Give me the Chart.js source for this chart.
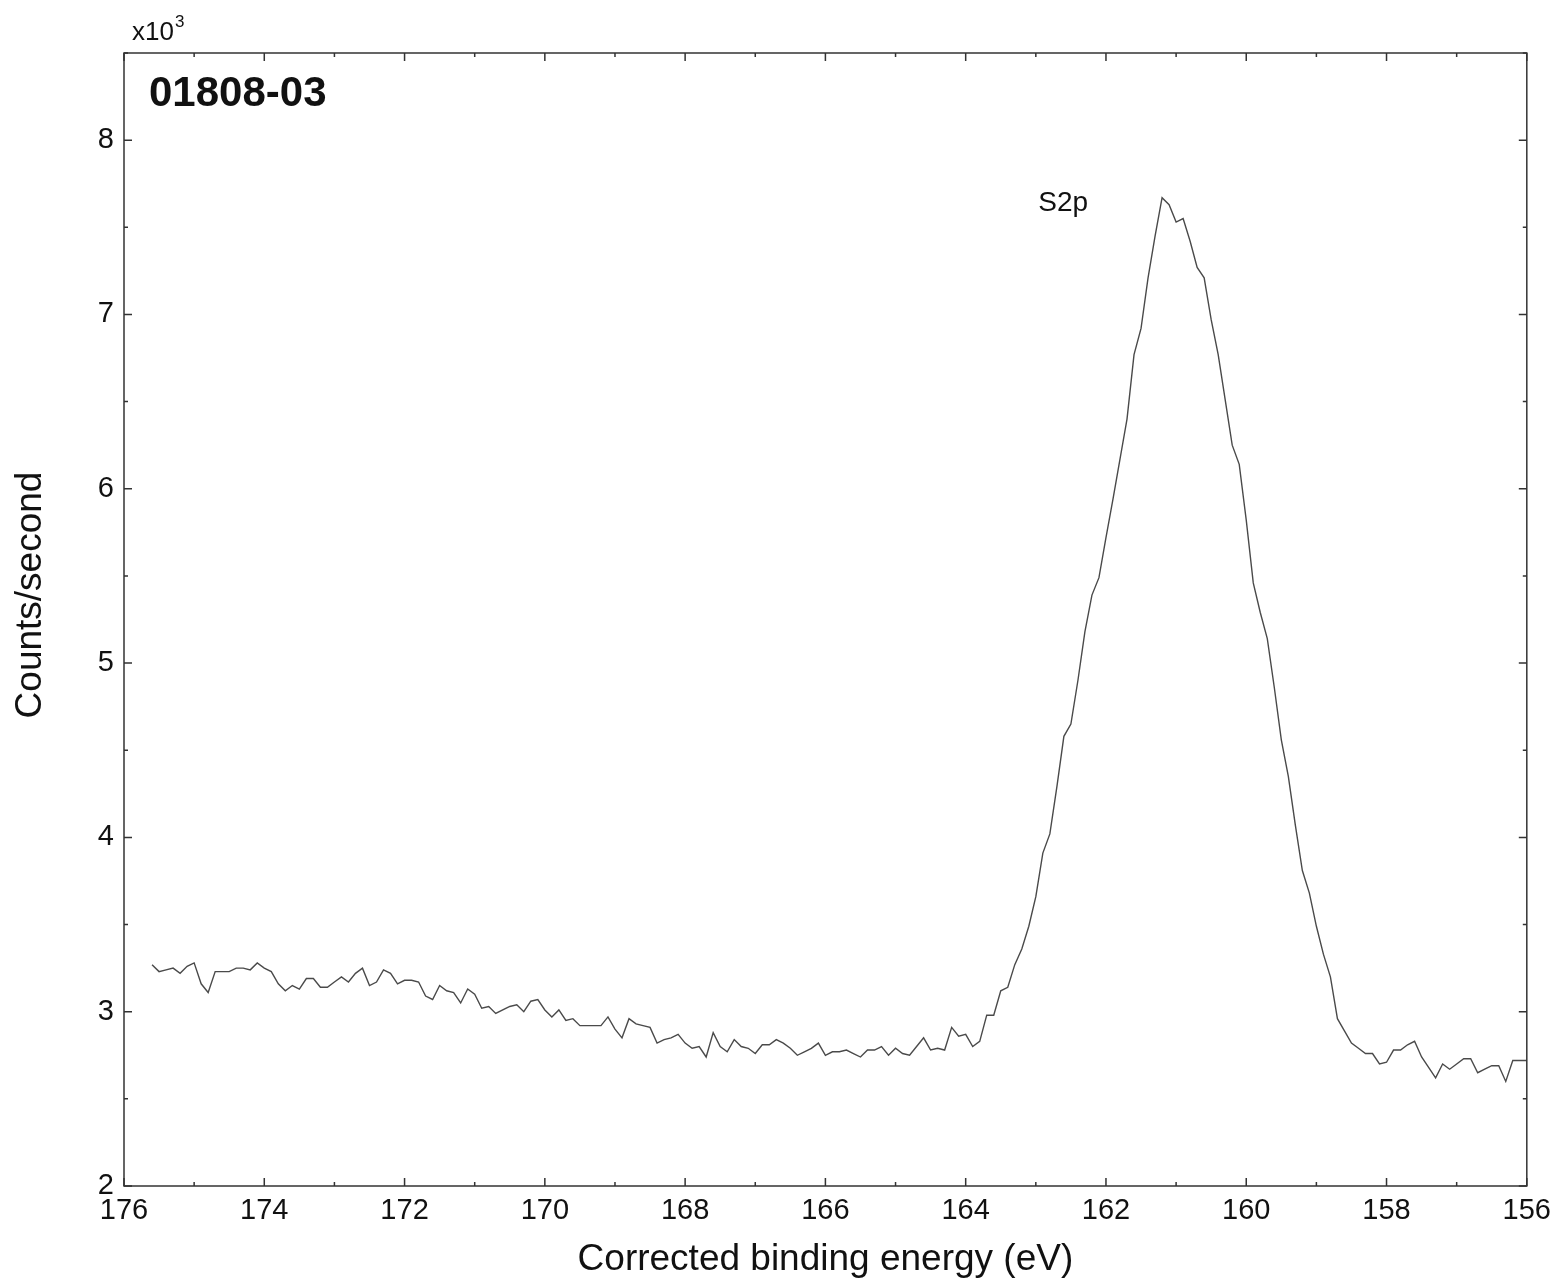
<!DOCTYPE html>
<html>
<head>
<meta charset="utf-8">
<title>01808-03 S2p</title>
<script src="https://cdn.jsdelivr.net/npm/chart.js@4/dist/chart.umd.min.js"></script>
<style>
  html, body { margin: 0; padding: 0; background: #fff; }
  #wrap { width: 1559px; height: 1285px; position: relative; }
</style>
</head>
<body>
<div id="wrap"><canvas id="chart"></canvas></div>
<script>
// binding energy (eV), 0.1 eV steps as recorded
const energies = [
  175.6, 175.5, 175.4, 175.3, 175.2, 175.1, 175.0, 174.9, 174.8, 174.7,
  174.6, 174.5, 174.4, 174.3, 174.2, 174.1, 174.0, 173.9, 173.8, 173.7,
  173.6, 173.5, 173.4, 173.3, 173.2, 173.1, 173.0, 172.9, 172.8, 172.7,
  172.6, 172.5, 172.4, 172.3, 172.2, 172.1, 172.0, 171.9, 171.8, 171.7,
  171.6, 171.5, 171.4, 171.3, 171.2, 171.1, 171.0, 170.9, 170.8, 170.7,
  170.6, 170.5, 170.4, 170.3, 170.2, 170.1, 170.0, 169.9, 169.8, 169.7,
  169.6, 169.5, 169.4, 169.3, 169.2, 169.1, 169.0, 168.9, 168.8, 168.7,
  168.6, 168.5, 168.4, 168.3, 168.2, 168.1, 168.0, 167.9, 167.8, 167.7,
  167.6, 167.5, 167.4, 167.3, 167.2, 167.1, 167.0, 166.9, 166.8, 166.7,
  166.6, 166.5, 166.4, 166.3, 166.2, 166.1, 166.0, 165.9, 165.8, 165.7,
  165.6, 165.5, 165.4, 165.3, 165.2, 165.1, 165.0, 164.9, 164.8, 164.7,
  164.6, 164.5, 164.4, 164.3, 164.2, 164.1, 164.0, 163.9, 163.8, 163.7,
  163.6, 163.5, 163.4, 163.3, 163.2, 163.1, 163.0, 162.9, 162.8, 162.7,
  162.6, 162.5, 162.4, 162.3, 162.2, 162.1, 162.0, 161.9, 161.8, 161.7,
  161.6, 161.5, 161.4, 161.3, 161.2, 161.1, 161.0, 160.9, 160.8, 160.7,
  160.6, 160.5, 160.4, 160.3, 160.2, 160.1, 160.0, 159.9, 159.8, 159.7,
  159.6, 159.5, 159.4, 159.3, 159.2, 159.1, 159.0, 158.9, 158.8, 158.7,
  158.6, 158.5, 158.4, 158.3, 158.2, 158.1, 158.0, 157.9, 157.8, 157.7,
  157.6, 157.5, 157.4, 157.3, 157.2, 157.1, 157.0, 156.9, 156.8, 156.7,
  156.6, 156.5, 156.4, 156.3, 156.2, 156.1, 156.0
];

// counts/second, x10^3
const counts = [
  3.27, 3.23, 3.24, 3.25, 3.22, 3.26, 3.28, 3.16, 3.11, 3.23,
  3.23, 3.23, 3.25, 3.25, 3.24, 3.28, 3.25, 3.23, 3.16, 3.12,
  3.15, 3.13, 3.19, 3.19, 3.14, 3.14, 3.17, 3.20, 3.17, 3.22,
  3.25, 3.15, 3.17, 3.24, 3.22, 3.16, 3.18, 3.18, 3.17, 3.09,
  3.07, 3.15, 3.12, 3.11, 3.05, 3.13, 3.10, 3.02, 3.03, 2.99,
  3.01, 3.03, 3.04, 3.00, 3.06, 3.07, 3.01, 2.97, 3.01, 2.95,
  2.96, 2.92, 2.92, 2.92, 2.92, 2.97, 2.90, 2.85, 2.96, 2.93,
  2.92, 2.91, 2.82, 2.84, 2.85, 2.87, 2.82, 2.79, 2.80, 2.74,
  2.88, 2.80, 2.77, 2.84, 2.80, 2.79, 2.76, 2.81, 2.81, 2.84,
  2.82, 2.79, 2.75, 2.77, 2.79, 2.82, 2.75, 2.77, 2.77, 2.78,
  2.76, 2.74, 2.78, 2.78, 2.80, 2.75, 2.79, 2.76, 2.75, 2.80,
  2.85, 2.78, 2.79, 2.78, 2.91, 2.86, 2.87, 2.80, 2.83, 2.98,
  2.98, 3.12, 3.14, 3.27, 3.36, 3.49, 3.66, 3.91, 4.02, 4.29,
  4.58, 4.65, 4.90, 5.18, 5.39, 5.49, 5.72, 5.94, 6.17, 6.40,
  6.77, 6.92, 7.21, 7.45, 7.67, 7.63, 7.53, 7.55, 7.42, 7.27,
  7.21, 6.97, 6.77, 6.51, 6.25, 6.14, 5.82, 5.46, 5.29, 5.14,
  4.86, 4.56, 4.35, 4.07, 3.81, 3.68, 3.49, 3.33, 3.20, 2.96,
  2.89, 2.82, 2.79, 2.76, 2.76, 2.70, 2.71, 2.78, 2.78, 2.81,
  2.83, 2.74, 2.68, 2.62, 2.70, 2.67, 2.70, 2.73, 2.73, 2.65,
  2.67, 2.69, 2.69, 2.60, 2.72, 2.72, 2.72
];

const xRange = [156, 176];
const yRange = [2, 8.5];
const sampleName = "01808-03";
const peakLabel = { text: "S2p", x: 162.61, y: 7.64 };

const FONT = "'Liberation Sans', Arial, sans-serif";
const INK = "#111";

// frame, inward ticks on all sides, and the loose texts
const decorations = {
  id: "decorations",
  afterDraw(c) {
    const ctx = c.ctx;
    const a = c.chartArea;
    const xs = c.scales.x;
    const ys = c.scales.y;
    ctx.save();
    ctx.strokeStyle = "#333";
    ctx.lineWidth = 1.5;
    ctx.strokeRect(a.left, a.top, a.right - a.left, a.bottom - a.top);

    ctx.beginPath();
    for (let v = xRange[0]; v <= xRange[1]; v++) {
      const px = xs.getPixelForValue(v);
      const len = v % 2 === 0 ? 8 : 4;
      ctx.moveTo(px, a.bottom); ctx.lineTo(px, a.bottom - len);
      ctx.moveTo(px, a.top); ctx.lineTo(px, a.top + len);
    }
    for (let v = yRange[0]; v <= yRange[1]; v += 0.5) {
      const py = ys.getPixelForValue(v);
      const len = Number.isInteger(v) ? 8 : 4;
      ctx.moveTo(a.left, py); ctx.lineTo(a.left + len, py);
      ctx.moveTo(a.right, py); ctx.lineTo(a.right - len, py);
    }
    ctx.stroke();

    ctx.fillStyle = INK;
    // sample name
    ctx.font = "bold 42px " + FONT;
    ctx.textAlign = "left";
    ctx.textBaseline = "middle";
    ctx.fillText(sampleName, 149, 94);

    // peak label
    ctx.font = "28px " + FONT;
    ctx.textAlign = "center";
    ctx.fillText(peakLabel.text, xs.getPixelForValue(peakLabel.x), ys.getPixelForValue(peakLabel.y));

    // multiplier
    ctx.font = "26px " + FONT;
    ctx.textAlign = "left";
    ctx.fillText("x10", 132, 33);
    const w = ctx.measureText("x10").width;
    ctx.font = "17px " + FONT;
    ctx.fillText("3", 132 + w + 1, 22);

    // axis titles
    ctx.font = "37px " + FONT;
    ctx.textAlign = "center";
    ctx.fillText("Corrected binding energy (eV)", (a.left + a.right) / 2, 1260);
    ctx.translate(31, 595);
    ctx.rotate(-Math.PI / 2);
    ctx.fillText("Counts/second", 0, 0);
    ctx.restore();
  }
};

const points = energies.map((e, i) => ({ x: e, y: counts[i] }));

new Chart(document.getElementById("chart"), {
  type: "line",
  data: {
    datasets: [{
      data: points,
      borderColor: "#4a4a4a",
      borderWidth: 1.4,
      pointRadius: 0,
      tension: 0,
      fill: false
    }]
  },
  options: {
    responsive: true,
    maintainAspectRatio: false,
    animation: false,
    layout: { padding: { top: 53, right: 31, left: 0, bottom: 0 } },
    plugins: { legend: { display: false }, tooltip: { enabled: false } },
    scales: {
      x: {
        type: "linear",
        reverse: true,
        min: xRange[0],
        max: xRange[1],
        grid: { display: false, drawTicks: false },
        border: { display: false },
        ticks: { stepSize: 2, padding: 8, color: INK, font: { size: 29, family: FONT } },
        afterFit: (s) => { s.height = 99; }
      },
      y: {
        min: yRange[0],
        max: yRange[1],
        grid: { display: false, drawTicks: false },
        border: { display: false },
        ticks: { stepSize: 1, padding: 10, color: INK, font: { size: 29, family: FONT } },
        afterBuildTicks: (s) => { s.ticks = s.ticks.filter(t => Number.isInteger(t.value)); },
        afterFit: (s) => { s.width = 124; }
      }
    }
  },
  plugins: [decorations]
});
</script>
</body>
</html>
